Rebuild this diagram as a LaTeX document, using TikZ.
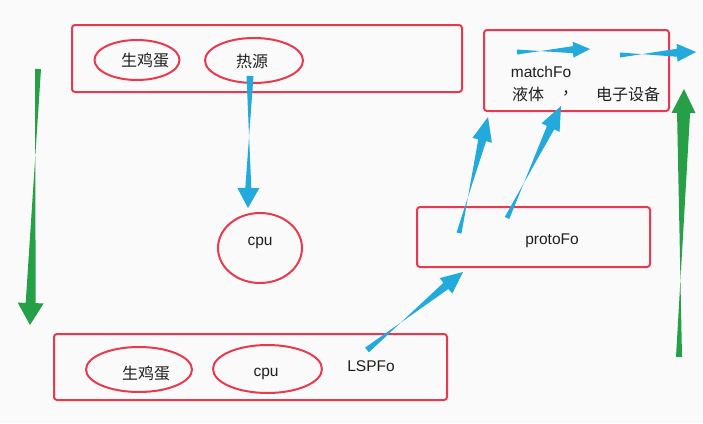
\documentclass[tikz,border=0pt]{standalone}
\usepackage{fontspec}
\setmainfont{Liberation Sans}
\newfontfamily\cjk{Noto Sans CJK SC}
\usetikzlibrary{calc,shapes.geometric}
\definecolor{bgc}{RGB}{250,250,250}
\definecolor{redc}{RGB}{232,58,78}
\definecolor{bluec}{RGB}{34,170,220}
\definecolor{greenc}{RGB}{38,160,70}
\tikzset{
  frame/.style={draw=redc,line width=2pt,rounded corners=3pt},
  oval/.style={draw=redc,line width=2pt,ellipse,inner sep=0pt},
  lbl/.style={font=\fontsize{15.5}{18}\selectfont,text=black!88,inner sep=0pt},
  clbl/.style={font=\cjk\fontsize{16}{18}\selectfont,text=black!88,inner sep=0pt},
}
% tapered arrow: start, end, start half-width, end half-width, head half-width, head length, colour
\newcommand\tarrow[7]{%
  \coordinate (tah) at ($(#2)!#6!(#1)$);
  \fill[#7,line join=round]
    ($(#1)!#3!90:(#2)$) -- ($(tah)!#4!-90:(#2)$) -- ($(tah)!#5!-90:(#2)$) -- (#2)
    -- ($(tah)!#5!90:(#2)$) -- ($(tah)!#4!90:(#2)$) -- ($(#1)!#3!-90:(#2)$) -- cycle;
}
\begin{document}
\begin{tikzpicture}[x=1pt,y=-1pt]
\fill[bgc] (0,0) rectangle (703,423);
\useasboundingbox (0,0) rectangle (703,423);

% top box
\node[frame,minimum width=390pt,minimum height=67pt] (top) at (267,58.5) {};
\node[oval,minimum width=85pt,minimum height=40pt] (egg1) at (137,60) {};
\node[clbl] (egg1t) at (145,60) {生鸡蛋};
\node[oval,minimum width=98pt,minimum height=45pt] (heat) at (254,60.5) {};
\node[clbl] (heatt) at (252,61) {热源};

% cpu
\node[oval,minimum width=84pt,minimum height=70pt] (cpu) at (260,248) {};
\node[lbl] (cput) at (260,243) {cpu};

% bottom box
\node[frame,minimum width=393pt,minimum height=66pt] (bot) at (250.5,367) {};
\node[oval,minimum width=106pt,minimum height=45pt] (egg2) at (139,369.5) {};
\node[clbl] (egg2t) at (146,373) {生鸡蛋};
\node[oval,minimum width=109pt,minimum height=48pt] (cpu2) at (267.5,369) {};
\node[lbl] (cpu2t) at (266,374) {cpu};
\node[lbl] (lspfo) at (371,366) {LSPFo};

% protoFo box
\node[frame,minimum width=233pt,minimum height=60pt] (proto) at (533.5,237) {};
\node[lbl] (protot) at (552,241) {protoFo};

% matchFo box
\node[frame,minimum width=185pt,minimum height=81pt] (match) at (576.5,70.5) {};
\node[lbl] (matcht) at (541,72) {matchFo};
\node[clbl] (liq) at (528,94) {液体};
\node[clbl] (comma) at (570,93) {，};
\node[clbl] (dev) at (628,94) {电子设备};

% arrow endpoints
\coordinate (a1s) at (250,76);  \coordinate (a1e) at (248,208);
\coordinate (a2s) at (367,350); \coordinate (a2e) at (463,272);
\coordinate (a3s) at (459,233); \coordinate (a3e) at (488,117);
\coordinate (a4s) at (507,218); \coordinate (a4e) at (561,106);
\coordinate (a5s) at (517,52);  \coordinate (a5e) at (590,49);
\coordinate (a6s) at (620,55);  \coordinate (a6e) at (696,52);
\coordinate (g1s) at (38,69);   \coordinate (g1e) at (30,325);
\coordinate (g2s) at (679,357); \coordinate (g2e) at (684,89);

\tarrow{a1s}{a1e}{3.5pt}{3pt}{11pt}{20pt}{bluec}
\tarrow{a2s}{a2e}{3pt}{4pt}{10pt}{22pt}{bluec}
\tarrow{a3s}{a3e}{2.5pt}{4pt}{10pt}{24pt}{bluec}
\tarrow{a4s}{a4e}{2.5pt}{4pt}{10pt}{24pt}{bluec}
\tarrow{a5s}{a5e}{2.5pt}{3.5pt}{8pt}{17pt}{bluec}
\tarrow{a6s}{a6e}{2.5pt}{4pt}{9pt}{19pt}{bluec}
\tarrow{g1s}{g1e}{3pt}{5pt}{13pt}{22pt}{greenc}
\tarrow{g2s}{g2e}{3pt}{6.5pt}{12pt}{24pt}{greenc}
\end{tikzpicture}
\end{document}
